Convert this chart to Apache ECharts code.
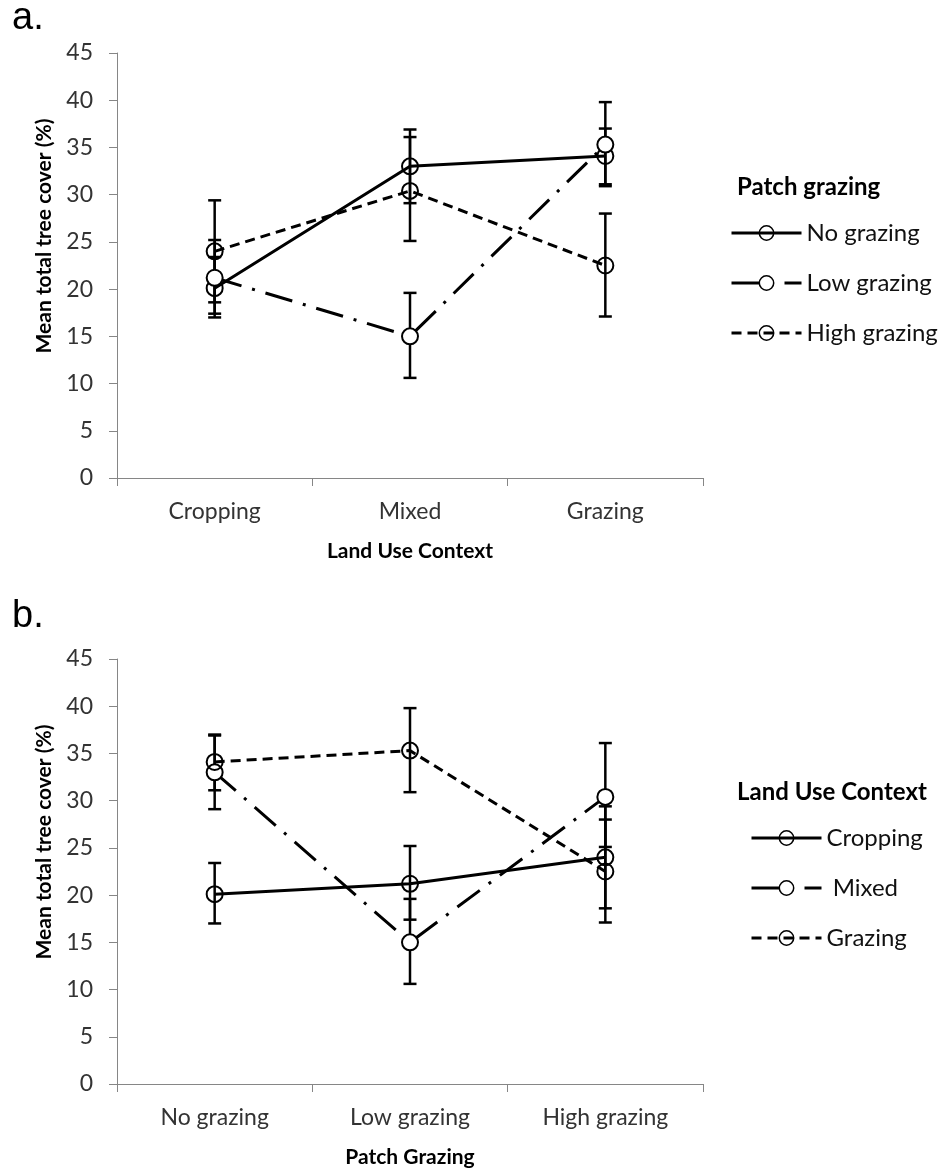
<!DOCTYPE html>
<html><head><meta charset="utf-8">
<script src="https://cdn.jsdelivr.net/npm/echarts@6/dist/echarts.min.js"></script>
<style>html,body{margin:0;padding:0;background:#fff}#c{width:946px;height:1174px}</style>
</head><body><div id="c"></div>
<script>
// ---------- DATA ----------
const landUseCats = ['Cropping', 'Mixed', 'Grazing'];
const patchCats = ['No grazing', 'Low grazing', 'High grazing'];
const yTicks = [0, 5, 10, 15, 20, 25, 30, 35, 40, 45];
const yTitle = 'Mean total tree cover (%)';

// Panel a: series = patch grazing, x = land use context
const noGrazingMean  = [20.1, 33.0, 34.1];
const noGrazingUpper = [23.4, 36.9, 37.0];
const noGrazingLower = [17.0, 29.1, 31.1];
const lowGrazingMean  = [21.2, 15.0, 35.3];
const lowGrazingUpper = [25.2, 19.6, 39.8];
const lowGrazingLower = [17.4, 10.6, 30.9];
const highGrazingMean  = [24.0, 30.4, 22.5];
const highGrazingUpper = [29.4, 36.1, 28.0];
const highGrazingLower = [18.6, 25.1, 17.1];

// Panel b: series = land use context, x = patch grazing
const croppingMean  = [20.1, 21.2, 24.0];
const croppingUpper = [23.4, 25.2, 29.4];
const croppingLower = [17.0, 17.4, 18.6];
const mixedMean  = [33.0, 15.0, 30.4];
const mixedUpper = [36.9, 19.6, 36.1];
const mixedLower = [29.1, 10.6, 25.1];
const grazingMean  = [34.1, 35.3, 22.5];
const grazingUpper = [37.0, 39.8, 28.0];
const grazingLower = [31.1, 30.9, 17.1];

// ---------- STYLE ----------
const FONT = 'Lato';
const AXIS_GRAY = '#868686';
const DASH = { solid: 'solid', dashdot: [28, 11, 3, 11], dashed: [10, 6] };
const FILL = { open: 'rgba(255,255,255,0)', white: '#ffffff' };

function xAxisCfg(g, cats, name) {
  return {
    gridIndex: g, type: 'category', data: cats, boundaryGap: true,
    axisLine: { show: true, lineStyle: { color: AXIS_GRAY, width: 1 } },
    axisTick: { show: true, length: 8, alignWithLabel: false, lineStyle: { color: AXIS_GRAY } },
    axisLabel: { fontFamily: FONT, fontSize: 23, color: '#333', margin: 22 },
    splitLine: { show: false },
    name: name, nameLocation: 'middle', nameGap: 63,
    nameTextStyle: { fontFamily: FONT, fontWeight: 'bold', fontSize: 21, color: '#000' }
  };
}
function yAxisCfg(g) {
  return {
    gridIndex: g, type: 'value', min: yTicks[0], max: yTicks[yTicks.length - 1], interval: yTicks[1] - yTicks[0],
    axisLine: { show: true, lineStyle: { color: AXIS_GRAY, width: 1 } },
    axisTick: { show: true, length: 8, lineStyle: { color: AXIS_GRAY } },
    axisLabel: { fontFamily: FONT, fontSize: 23, color: '#333', margin: 24 },
    splitLine: { show: false }
  };
}
function lineSeries(g, name, mean, dash, fill) {
  return {
    type: 'line', name: name, xAxisIndex: g, yAxisIndex: g, data: mean,
    symbol: 'circle', symbolSize: 16, showSymbol: true, z: 3,
    lineStyle: { color: '#000', width: 3, type: dash, cap: 'butt' },
    itemStyle: { color: fill, borderColor: '#000', borderWidth: 2 },
    emphasis: { disabled: true }, silent: true, animation: false
  };
}
function errSeries(g, lower, upper) {
  return {
    type: 'custom', xAxisIndex: g, yAxisIndex: g, z: 2, silent: true, animation: false,
    encode: { x: 0, y: [1, 2] },
    data: lower.map((lo, i) => [i, lo, upper[i]]),
    renderItem: function (params, api) {
      const i = api.value(0);
      const lo = api.coord([i, api.value(1)]);
      const hi = api.coord([i, api.value(2)]);
      const hw = 6.5;
      const st = { stroke: '#000', lineWidth: 2.5, fill: null };
      return { type: 'group', children: [
        { type: 'line', shape: { x1: lo[0], y1: lo[1], x2: hi[0], y2: hi[1] }, style: st },
        { type: 'line', shape: { x1: hi[0] - hw, y1: hi[1], x2: hi[0] + hw, y2: hi[1] }, style: st },
        { type: 'line', shape: { x1: lo[0] - hw, y1: lo[1], x2: lo[0] + hw, y2: lo[1] }, style: st }
      ]};
    }
  };
}
function legendCfg(names, left, top, formatter) {
  return {
    data: names, orient: 'vertical', left: left, top: top, padding: 0,
    itemWidth: 70, itemHeight: 18, itemGap: 26, selectedMode: false,
    textStyle: { fontFamily: FONT, fontSize: 24, color: '#111', lineHeight: 18 },
    lineStyle: { width: 3, color: '#000' },
    itemStyle: { borderWidth: 1.5, borderColor: '#000' },
    formatter: formatter
  };
}
function yTitleText(cy) {
  return {
    type: 'text', x: 44, y: cy, rotation: Math.PI / 2, silent: true,
    style: { text: yTitle, fontFamily: FONT, fontWeight: 'bold', fontSize: 21, fill: '#000',
             align: 'center', verticalAlign: 'middle' }
  };
}

const chart = echarts.init(document.getElementById('c'), null, { renderer: 'canvas' });
chart.setOption({
  animation: false,
  backgroundColor: '#fff',
  title: [
    { text: 'a.', left: 12, top: 0, padding: 0, textStyle: { fontFamily: 'Liberation Sans', fontSize: 38, fontWeight: 'normal', color: '#000' } },
    { text: 'b.', left: 12, top: 598, padding: 0, textStyle: { fontFamily: 'Liberation Sans', fontSize: 38, fontWeight: 'normal', color: '#000' } },
    { text: 'Patch grazing', left: 737, top: 175, padding: 0, textStyle: { fontFamily: FONT, fontSize: 24, fontWeight: 'bold', color: '#000' } },
    { text: 'Land Use Context', left: 737, top: 780, padding: 0, textStyle: { fontFamily: FONT, fontSize: 24, fontWeight: 'bold', color: '#000' } }
  ],
  graphic: [yTitleText(236), yTitleText(842)],
  legend: [
    legendCfg(patchCats, 730, 221),
    legendCfg(landUseCats, 750, 826, n => (n === 'Mixed' ? ' Mixed' : n))
  ],
  grid: [
    { left: 117, top: 53, width: 586, height: 425 },
    { left: 117, top: 659, width: 586, height: 425 }
  ],
  xAxis: [xAxisCfg(0, landUseCats, 'Land Use Context'), xAxisCfg(1, patchCats, 'Patch Grazing')],
  yAxis: [yAxisCfg(0), yAxisCfg(1)],
  series: [
    errSeries(0, noGrazingLower, noGrazingUpper),
    errSeries(0, lowGrazingLower, lowGrazingUpper),
    errSeries(0, highGrazingLower, highGrazingUpper),
    lineSeries(0, patchCats[0], noGrazingMean, DASH.solid, FILL.open),
    lineSeries(0, patchCats[1], lowGrazingMean, DASH.dashdot, FILL.white),
    lineSeries(0, patchCats[2], highGrazingMean, DASH.dashed, FILL.open),
    errSeries(1, croppingLower, croppingUpper),
    errSeries(1, mixedLower, mixedUpper),
    errSeries(1, grazingLower, grazingUpper),
    lineSeries(1, landUseCats[0], croppingMean, DASH.solid, FILL.open),
    lineSeries(1, landUseCats[1], mixedMean, DASH.dashdot, FILL.white),
    lineSeries(1, landUseCats[2], grazingMean, DASH.dashed, FILL.open)
  ]
});
</script></body></html>
